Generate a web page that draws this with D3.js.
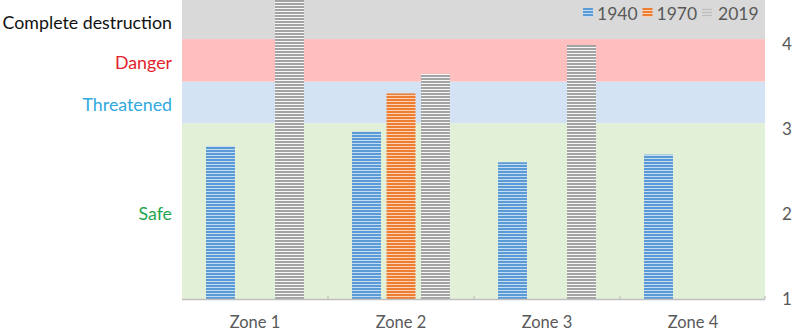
<!DOCTYPE html>
<html><head><meta charset="utf-8">
<script src="https://cdn.jsdelivr.net/npm/d3@7/dist/d3.min.js"></script>
<style>
html,body{margin:0;padding:0;background:#fff;}
svg{display:block;font-family:Lato,"Open Sans",sans-serif;}
</style></head>
<body><svg id="chart" width="800" height="336"></svg>
<script>
// ---- data ----
const zones = ["Zone 1", "Zone 2", "Zone 3", "Zone 4"];
const years = ["1940", "1970", "2019"];
const v1940 = [2.8, 2.97, 2.61, 2.7];
const v1970 = [null, 3.42, null, null];
const v2019 = [4.52, 3.65, 3.99, null];
const bandNames = ["Safe", "Threatened", "Danger", "Complete destruction"];
const bandTops = [3.07, 3.56, 4.06, 4.52];
const yTicks = [1, 2, 3, 4];

const seriesColors = {"1940": ["#5b9bd5", "#c5dcf2"], "1970": ["#ed7d31", "#fbd3b8"], "2019": ["#a3a3a3", "#f7f7f7"]};
const bandColors = ["#e3f0d8", "#d4e3f3", "#ffbfbf", "#d9d9d9"];
const bandLabelColors = ["#1fa64d", "#2fa9dd", "#e3232b", "#111111"];

const svg = d3.select("#chart");
const x = d3.scaleBand().domain(zones).range([182, 766]);
const xs = d3.scaleBand().domain(years).range([0, x.bandwidth()]).paddingInner(0.16).paddingOuter(0.696);
const y = d3.scaleLinear().domain([1, 4.52]).range([299, 0]);

// patterns
const defs = svg.append("defs");
years.forEach(yr => {
  const p = defs.append("pattern").attr("id", "p" + yr).attr("patternUnits", "userSpaceOnUse")
    .attr("width", 6).attr("height", 3);
  p.append("rect").attr("width", 6).attr("height", 3).attr("fill", seriesColors[yr][0]);
  p.append("rect").attr("y", 2).attr("width", 6).attr("height", 1).attr("fill", seriesColors[yr][1]);
});

// bands
const bands = bandNames.map((n, i) => ({name: n, lo: i === 0 ? 1 : bandTops[i - 1], hi: bandTops[i], i}));
svg.append("g").selectAll("rect").data(bands).join("rect")
  .attr("x", x.range()[0]).attr("width", x.range()[1] - x.range()[0] - 1)
  .attr("y", d => y(d.hi)).attr("height", d => y(d.lo) - y(d.hi))
  .attr("fill", d => bandColors[d.i]);

svg.append("g").selectAll("text").data(bands).join("text")
  .attr("x", 172).attr("y", d => y((d.lo + d.hi) / 2) + 2)
  .attr("text-anchor", "end").attr("dominant-baseline", "central")
  .attr("font-size", 17.8).attr("fill", d => bandLabelColors[d.i]).text(d => d.name);

// bars
const seriesVals = {"1940": v1940, "1970": v1970, "2019": v2019};
const barData = [];
zones.forEach((z, zi) => years.forEach(yr => {
  const v = seriesVals[yr][zi];
  if (v != null) barData.push({z, yr, v});
}));
svg.append("g").selectAll("rect").data(barData).join("rect")
  .attr("x", d => x(d.z) + xs(d.yr)).attr("width", xs.bandwidth())
  .attr("y", d => y(d.v)).attr("height", d => y(1) - y(d.v))
  .attr("fill", d => "url(#p" + d.yr + ")");

// bottom axis
const xAxis = d3.axisBottom(x).tickSize(0).tickPadding(17);
const gx = svg.append("g").attr("transform", `translate(0,${y(1)})`).call(xAxis);
gx.select(".domain").remove();
gx.selectAll("text").attr("font-size", 16.5).attr("fill", "#595959").attr("font-family", "Lato,sans-serif");
svg.append("line").attr("x1", x.range()[0]).attr("x2", x.range()[1] - 1)
  .attr("y1", y(1) + 0.5).attr("y2", y(1) + 0.5).attr("stroke", "#bfbfbf").attr("stroke-width", 1.5);
const bounds = zones.slice(1).map(z => x(z)).concat([x.range()[1] - 1]);
svg.append("g").selectAll("line").data(bounds).join("line")
  .attr("x1", d => d).attr("x2", d => d).attr("y1", y(1) - 3).attr("y2", y(1))
  .attr("stroke", "#bfbfbf").attr("stroke-width", 1.2);

// right axis
const yAxis = d3.axisRight(y).tickValues(yTicks).tickSize(0).tickPadding(0).tickFormat(d3.format("d"));
const gy = svg.append("g").attr("transform", "translate(787,0)").call(yAxis);
gy.select(".domain").remove();
gy.selectAll("text").attr("text-anchor", "middle").attr("font-size", 17).attr("fill", "#595959").attr("font-family", "Lato,sans-serif");

// legend
const legX = d3.scalePoint().domain(years).range([583, 702]);
const lg = svg.append("g").selectAll("g").data(years).join("g")
  .attr("transform", d => `translate(${legX(d)},8)`);
lg.append("rect").attr("width", 10).attr("height", 9)
  .attr("fill", d => d === "2019" ? "#d6d6d6" : "url(#p" + d + ")");
lg.filter(d => d === "2019").selectAll("line").data([1.5, 4.5, 7.5]).join("line")
  .attr("x1", 0).attr("x2", 10).attr("y1", d => d).attr("y2", d => d).attr("stroke", "#bdbdbd").attr("stroke-width", 1);
lg.append("text").attr("x", d => d === "2019" ? 16 : 14).attr("y", 5).attr("dominant-baseline", "central")
  .attr("font-size", 17.5).attr("fill", "#595959").text(d => d);
</script></body></html>
